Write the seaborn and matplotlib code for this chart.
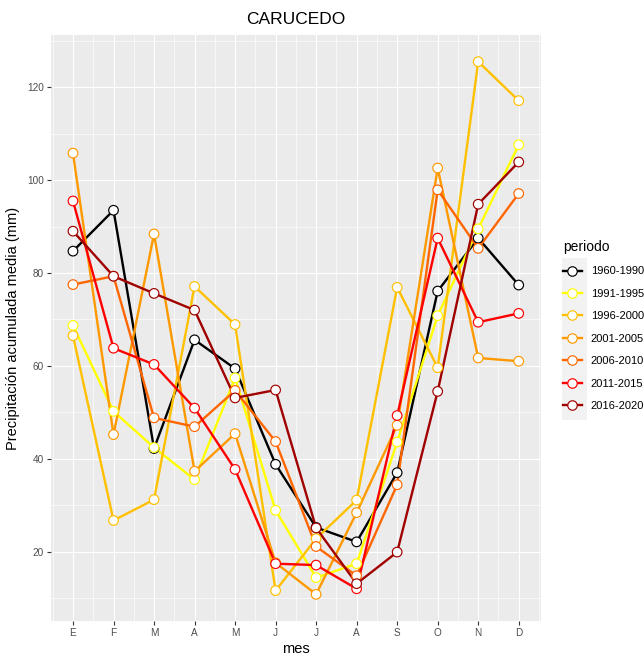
import numpy as np
import pandas as pd
import matplotlib
matplotlib.use("Agg")
import matplotlib.pyplot as plt
from matplotlib.lines import Line2D
from matplotlib.patches import Rectangle
import seaborn as sns

plt.rcParams["font.family"] = ["Liberation Sans", "DejaVu Sans"]

# ---- data ----
meses = ["E", "F", "M", "A", "M", "J", "J", "A", "S", "O", "N", "D"]
periodos = ["1960-1990", "1991-1995", "1996-2000", "2001-2005",
            "2006-2010", "2011-2015", "2016-2020"]
p1960_1990 = [84.7, 93.5, 42.2, 65.6, 59.4, 38.8, 25.2, 22.1, 37.0, 76.1, 87.5, 77.4]
p1991_1995 = [68.7, 50.2, 42.4, 35.5, 57.4, 28.9, 14.4, 17.4, 43.6, 70.8, 89.5, 107.6]
p1996_2000 = [66.5, 26.7, 31.2, 77.1, 68.9, 11.6, 22.8, 31.1, 76.9, 59.6, 125.5, 117.1]
p2001_2005 = [105.8, 45.2, 88.4, 37.3, 45.4, 17.6, 10.8, 28.4, 47.2, 102.6, 61.7, 61.0]
p2006_2010 = [77.5, 79.3, 48.8, 46.9, 54.7, 43.7, 21.1, 14.8, 34.4, 97.9, 85.3, 97.1]
p2011_2015 = [95.5, 63.8, 60.3, 50.9, 37.7, 17.4, 17.1, 12.0, 49.3, 87.5, 69.4, 71.3]
p2016_2020 = [89.0, 79.3, 75.6, 72.0, 53.1, 54.8, 25.1, 13.1, 19.9, 54.5, 94.8, 103.9]
colores = ["#000000", "#FFFF00", "#FFC000", "#FF9900", "#FF6600", "#FF0000", "#A00000"]

series = [p1960_1990, p1991_1995, p1996_2000, p2001_2005, p2006_2010, p2011_2015, p2016_2020]
mes_num = list(range(1, 13))
df = pd.DataFrame({
    "mes": np.tile(mes_num, len(periodos)),
    "precip": np.concatenate(series),
    "periodo": np.repeat(periodos, 12),
})
palette = dict(zip(periodos, colores))

# ---- figure ----
fig = plt.figure(figsize=(6.44, 6.57), dpi=100)
ax = fig.add_axes([50.7 / 644, 1 - 621 / 657, (541 - 50.7) / 644, (621 - 35) / 657])

ax.set_facecolor("#EBEBEB")
for s in ax.spines.values():
    s.set_visible(False)

sns.lineplot(data=df, x="mes", y="precip", hue="periodo", hue_order=periodos,
             palette=palette, linewidth=1.7, legend=False, ax=ax, zorder=3)
sns.scatterplot(data=df, x="mes", y="precip", hue="periodo", hue_order=periodos,
                palette=palette, s=48, linewidth=0.85, legend=False, ax=ax, zorder=4)
for coll in ax.collections:
    fc = coll.get_facecolors()
    coll.set_edgecolors(fc)
    coll.set_facecolors("white")

ax.set_xlim(0.45, 12.55)
ax.set_ylim(5.06, 131.24)
ax.set_xticks(mes_num)
ax.set_xticklabels(meses)
ax.set_yticks([20, 40, 60, 80, 100, 120])
ax.set_xticks(np.arange(0.5, 13.0, 1.0), minor=True)
ax.set_yticks([10, 30, 50, 70, 90, 110, 130], minor=True)
ax.grid(which="major", color="white", linewidth=0.85, zorder=0)
ax.grid(which="minor", color="white", linewidth=0.45, zorder=0)
ax.set_axisbelow(True)
ax.tick_params(which="major", length=3, width=0.8, color="#333333",
               labelsize=7.2, labelcolor="#4D4D4D", pad=2)
ax.tick_params(which="minor", length=0)

ax.set_xlabel("mes", fontsize=10.5, color="black", labelpad=3)
ax.set_ylabel("Precipitación acumulada media (mm)", fontsize=10.5, color="black", labelpad=5)
ax.set_title("CARUCEDO", fontsize=12.5, color="black", pad=8)

# legend
fig.patches.append(Rectangle((562 / 644, 1 - 420 / 657), 25 / 644, 162 / 657,
                             transform=fig.transFigure, facecolor="#F2F2F2",
                             edgecolor="none", zorder=0))
handles = [Line2D([0], [0], color=c, linewidth=1.7, marker="o", markersize=6.8,
                  markerfacecolor="white", markeredgecolor=c, markeredgewidth=0.85)
           for c in colores]
leg = fig.legend(handles, periodos, loc="upper left",
                 bbox_to_anchor=(563 / 644, 1 - 240 / 657), frameon=False,
                 fontsize=8, title="periodo", title_fontsize=10,
                 handlelength=1.7, handletextpad=0.8, labelspacing=1.12,
                 borderaxespad=0, borderpad=0)
leg._legend_box.align = "left"

fig.savefig("out.png", dpi=100, facecolor="white")
